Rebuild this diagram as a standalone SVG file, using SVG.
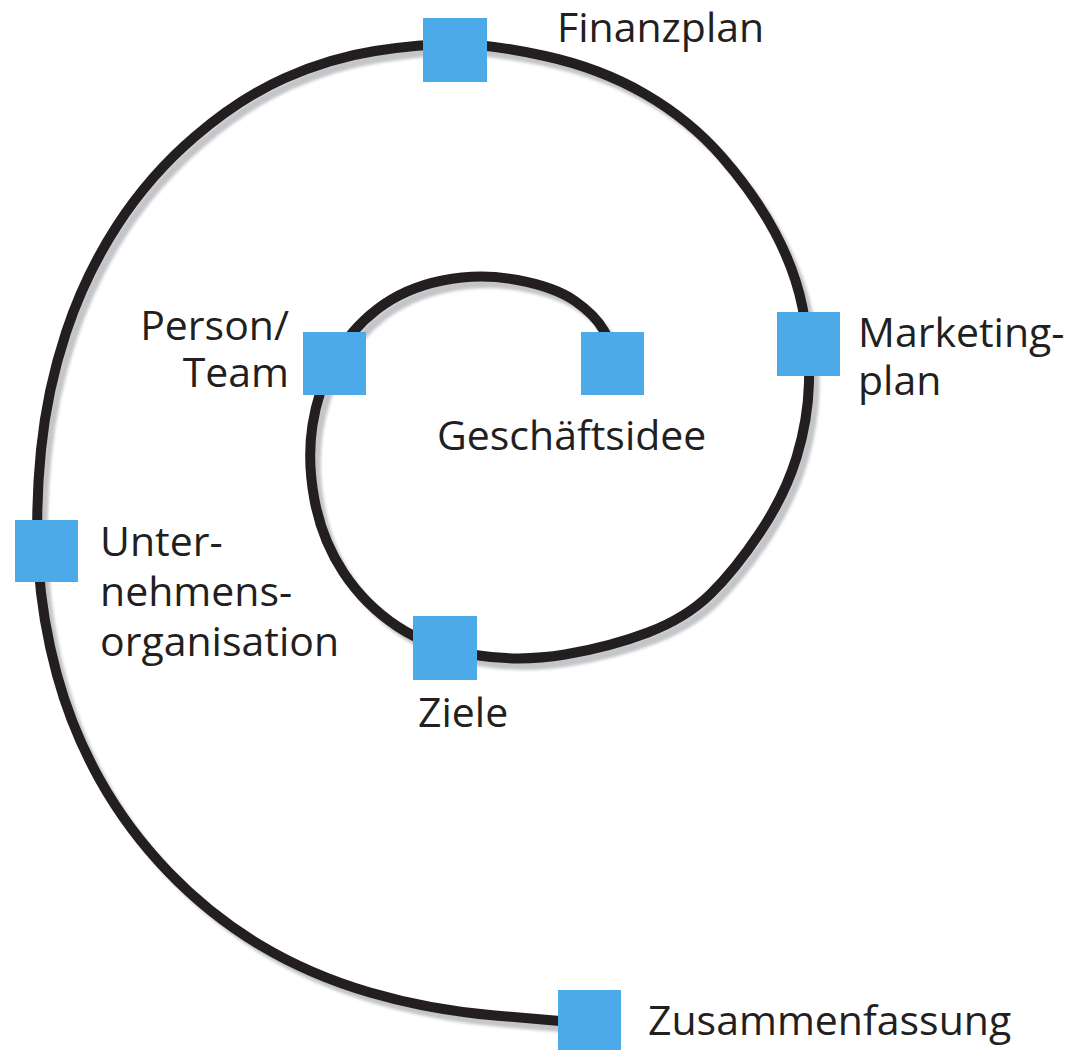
<svg xmlns="http://www.w3.org/2000/svg" xmlns:xlink="http://www.w3.org/1999/xlink" width="1081" height="1050" viewBox="0 0 1081 1050">
  <style>
    .label { font-family: "Open Sans", "Noto Sans", "Liberation Sans", sans-serif; font-size: 41px; fill: #231f20; }
    .node rect { fill: #4daae8; }
    .spiral { fill: none; stroke: #231f20; stroke-width: 10; stroke-linecap: round; stroke-linejoin: round; }
    .shade { fill: none; stroke: #c3c5c8; stroke-width: 9; stroke-linecap: round; stroke-linejoin: round; }
  </style>
  <defs>
    <filter id="soft" x="-10%" y="-10%" width="120%" height="120%">
      <feGaussianBlur stdDeviation="1.6"/>
    </filter>
    <path id="spiralPath" d="M 612 345 L 603.5 330
      Q 595 315 575 301 Q 555 287 517.5 280 Q 480 273 442.5 280.5 Q 405 288 377.5 309
      Q 350 330 334 360 Q 318 390 312.5 425 Q 307 460 314.5 500 Q 322 540 343.5 572.5
      Q 365 605 397.5 626.5 Q 430 648 475 655 Q 520 662 565 654.5 Q 610 647 648 632.5
      Q 686 618 710.5 594 Q 735 570 760 532.5 Q 785 495 796.5 457.5 Q 808 420 809 382.5
      Q 810 345 802.5 307.5 Q 795 270 775 232.5 Q 755 195 722.5 157.5 Q 690 120 645 94
      Q 600 68 545 56 Q 490 44 455 44 Q 420 44 375 51 Q 330 58 285 78
      Q 240 98 195 136.5 Q 150 175 117.5 225 Q 85 275 66 332.5 Q 47 390 41 450
      Q 35 510 38.5 565 Q 42 620 57 675 Q 72 730 100 780 Q 128 830 169 872.5
      Q 210 915 260 945 Q 310 975 370 992.5 Q 430 1010 495 1015.5 L 560 1021"/>
  </defs>

  <!-- spiral line with its soft grey drop shadow -->
  <g id="connectors">
    <use xlink:href="#spiralPath" class="shade" transform="translate(6,7)" filter="url(#soft)"/>
    <use xlink:href="#spiralPath" class="spiral"/>
  </g>

  <g id="geschaeftsidee" class="node">
    <rect x="581" y="332" width="63" height="63"/>
    <text class="label" x="437" y="450">Geschäftsidee</text>
  </g>

  <g id="person-team" class="node">
    <rect x="303" y="332" width="63" height="63"/>
    <text class="label" text-anchor="end" x="289" y="340">Person/</text>
    <text class="label" text-anchor="end" x="289" y="387">Team</text>
  </g>

  <g id="ziele" class="node">
    <rect x="413" y="616" width="64" height="64"/>
    <text class="label" x="418" y="727">Ziele</text>
  </g>

  <g id="marketingplan" class="node">
    <rect x="777" y="312" width="63" height="64"/>
    <text class="label" x="858" y="347">Marketing-</text>
    <text class="label" x="858" y="395">plan</text>
  </g>

  <g id="finanzplan" class="node">
    <rect x="423" y="18" width="64" height="64"/>
    <text class="label" x="557" y="42">Finanzplan</text>
  </g>

  <g id="unternehmensorganisation" class="node">
    <rect x="15" y="520" width="63" height="62"/>
    <text class="label" x="100" y="556">Unter-</text>
    <text class="label" x="100" y="606">nehmens-</text>
    <text class="label" x="100" y="656">organisation</text>
  </g>

  <g id="zusammenfassung" class="node">
    <rect x="558" y="990" width="63" height="64"/>
    <text class="label" x="648" y="1035">Zusammenfassung</text>
  </g>
</svg>
